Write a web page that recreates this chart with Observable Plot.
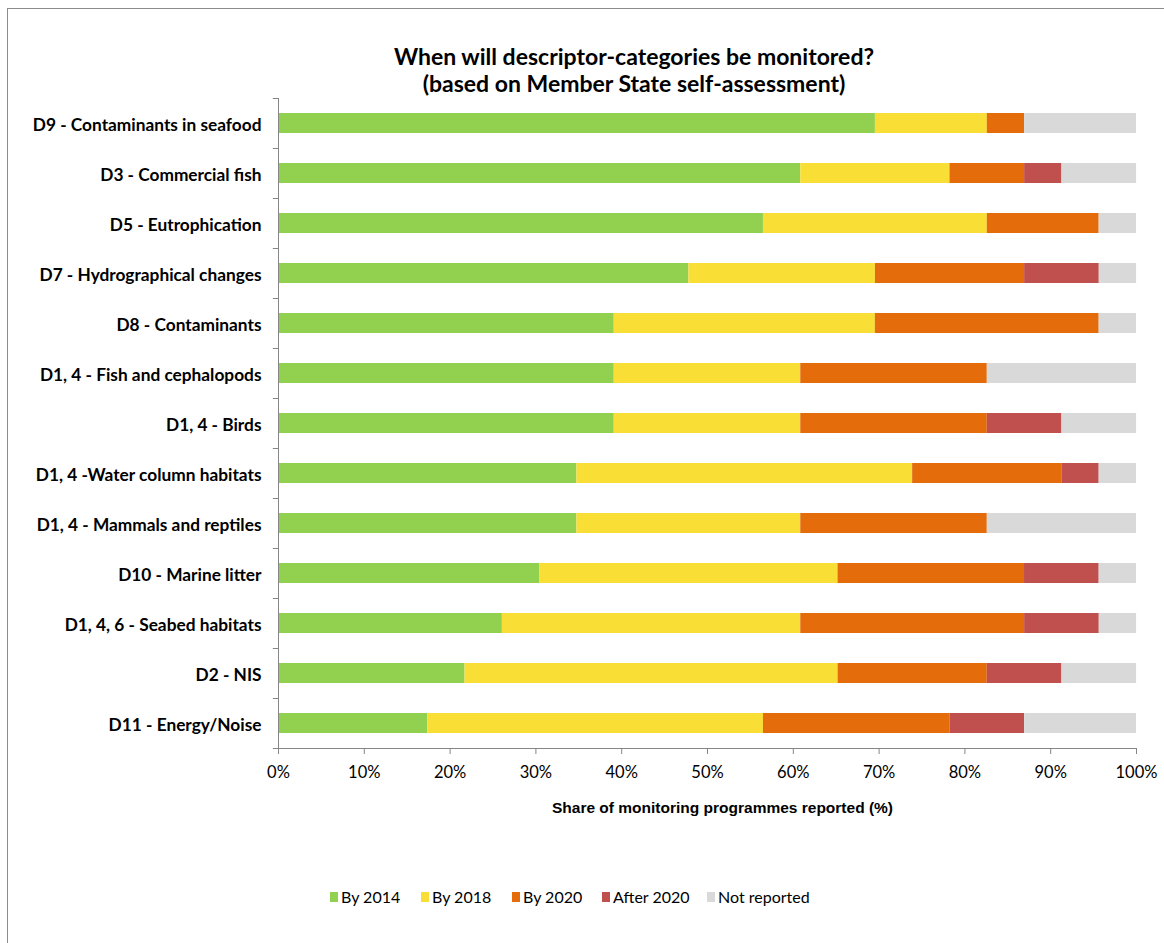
<!DOCTYPE html>
<html>
<head>
<meta charset="utf-8">
<script src="https://cdn.jsdelivr.net/npm/d3@7"></script>
<script src="https://cdn.jsdelivr.net/npm/@observablehq/plot@0.6"></script>
<style>
  body { margin: 0; background: #fff; }
  #wrap { position: relative; width: 1164px; height: 943px; overflow: hidden; font-family: Lato, "Open Sans", sans-serif; }
  #frame { position: absolute; left: 7px; top: 8px; width: 1200px; height: 1000px; border: 1.5px solid #8c8c8c; box-sizing: border-box; }
  #title { position: absolute; left: 334px; width: 600px; top: 43px; text-align: center; font-weight: 700; font-size: 23px; line-height: 27px; color: #000; }
  #chart { position: absolute; left: 0; top: 90px; }
  #legend { position: absolute; left: 330px; top: 887px; display: grid; grid-template-columns: 91px 91px 90px 105px auto; align-items: center; font-size: 16px; color: #000; }
  #legend .item { display: flex; align-items: center; white-space: nowrap; }
  #legend .sw { width: 8px; height: 10px; margin-right: 3px; }
</style>
</head>
<body>
<div id="wrap">
  <div id="frame"></div>
  <div id="title">When will descriptor-categories be monitored?<br>(based on Member State self-assessment)</div>
  <div id="chart"></div>
  <div id="legend"></div>
</div>
<script>
const categories = [
  "D9 - Contaminants in seafood",
  "D3 - Commercial fish",
  "D5 - Eutrophication",
  "D7 - Hydrographical changes",
  "D8 - Contaminants",
  "D1, 4 - Fish and cephalopods",
  "D1, 4 - Birds",
  "D1, 4 -Water column habitats",
  "D1, 4 - Mammals and reptiles",
  "D10 - Marine litter",
  "D1, 4, 6 - Seabed habitats",
  "D2 - NIS",
  "D11 - Energy/Noise"
];
const seriesNames = ["By 2014", "By 2018", "By 2020", "After 2020", "Not reported"];
const seriesColors = ["#92D050", "#F9DF35", "#E46C0A", "#C0504D", "#D9D9D9"];

// share of monitoring programmes (%) per segment
const by2014      = [69.57, 60.87, 56.52, 47.83, 39.13, 39.13, 39.13, 34.78, 34.78, 30.43, 26.09, 21.74, 17.39];
const by2018      = [13.04, 17.39, 26.09, 21.74, 30.43, 21.74, 21.74, 39.13, 26.09, 34.78, 34.78, 43.48, 39.13];
const by2020      = [ 4.35,  8.70, 13.04, 17.39, 26.09, 21.74, 21.74, 17.39, 21.74, 21.74, 26.09, 17.39, 21.74];
const after2020   = [ 0.00,  4.35,  0.00,  8.70,  0.00,  0.00,  8.70,  4.35,  0.00,  8.70,  8.70,  8.70,  8.70];
const notReported = [13.04,  8.70,  4.35,  4.35,  4.35, 17.39,  8.70,  4.35, 17.39,  4.35,  4.35,  8.70, 13.04];
const xTicks = [0, 10, 20, 30, 40, 50, 60, 70, 80, 90, 100];
const xLabel = "Share of monitoring programmes reported (%)";

const seriesValues = [by2014, by2018, by2020, after2020, notReported];
const rows = [];
seriesNames.forEach((s, si) => {
  categories.forEach((c, ci) => rows.push({category: c, series: s, value: seriesValues[si][ci]}));
});

const calibri = "Lato, 'Open Sans', sans-serif";

const chart = Plot.plot({
  width: 1164,
  height: 738,
  marginLeft: 278,
  marginRight: 28,
  marginTop: 8,
  marginBottom: 80,
  style: {fontFamily: calibri, background: "transparent", overflow: "visible"},
  x: {domain: [0, 100], axis: null},
  y: {domain: categories, paddingInner: 0.6, paddingOuter: 0.3, axis: null},
  color: {domain: seriesNames, range: seriesColors},
  marks: [
    Plot.barX(rows, Plot.stackX({
      y: "category", x: "value", fill: "series", order: seriesNames, inset: 0
    })),
    // y axis line
    Plot.ruleX([0], {stroke: "#868686", strokeWidth: 1}),
    // y tick marks at category boundaries
    Plot.ruleY(categories, {y: d => d, x1: -0.6, x2: 0, dy: -25, stroke: "#868686", clip: false}),
    Plot.ruleY(categories.slice(-1), {y: d => d, x1: -0.6, x2: 0, dy: 25, stroke: "#868686", clip: false}),
    // x axis line
    Plot.frame({anchor: "bottom", stroke: "#868686"}),
    Plot.axisY({
      tickSize: 0, tickPadding: 17, fontSize: 17.3, fontWeight: "bold", fill: "#000", label: null, dy: 1.5
    }),
    Plot.axisX({
      ticks: xTicks, tickSize: 6, tickPadding: 12, stroke: "#868686",
      tickFormat: d => d + "%", fontSize: 16.5, fill: "#000", label: null
    }),
    Plot.text([xLabel], {
      text: d => d, frameAnchor: "bottom", dy: 64, dx: 15,
      fontFamily: "'Liberation Sans', Arial, sans-serif", fontWeight: "bold", fontSize: 15.5,
      fill: "#000"
    })
  ]
});
document.getElementById("chart").appendChild(chart);

const legend = document.getElementById("legend");
seriesNames.forEach((s, i) => {
  const item = document.createElement("div");
  item.className = "item";
  const sw = document.createElement("span");
  sw.className = "sw";
  sw.style.background = seriesColors[i];
  const t = document.createElement("span");
  t.textContent = s;
  item.appendChild(sw); item.appendChild(t);
  legend.appendChild(item);
});
</script>
</body>
</html>
